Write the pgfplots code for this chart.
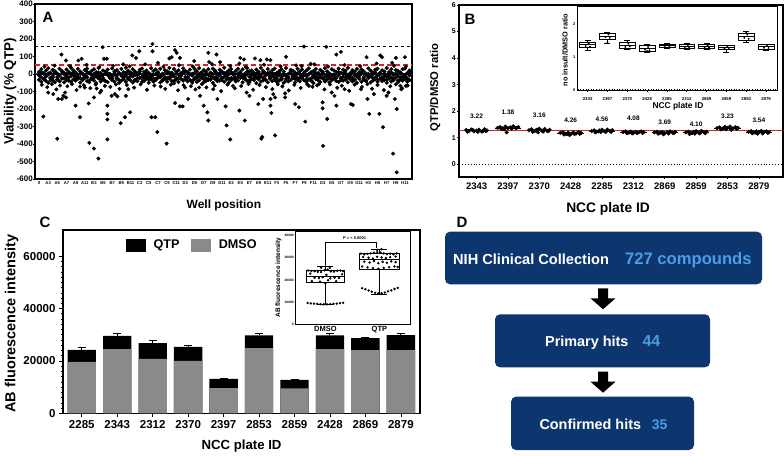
\documentclass[border=0pt]{standalone}
\usepackage{pgfplots}
\usepackage{pgfplotstable}
\pgfplotsset{compat=1.18}
\usepgfplotslibrary{statistics}
\usepackage{fontspec}
\setmainfont{Liberation Sans}
\definecolor{navybox}{RGB}{14,54,110}
\definecolor{lightblue}{RGB}{74,158,232}
\definecolor{dmsogray}{RGB}{138,138,138}
\definecolor{bluel}{RGB}{24,32,140}
\definecolor{redl}{RGB}{214,36,36}
\newcommand{\myfs}[1]{\fontsize{#1}{#1}\selectfont\bfseries}
\pgfplotsset{
  myaxis/.style={
    scale only axis, anchor=south west,
    axis line style={line width=1.1pt},
    every tick/.style={black, line width=0.6pt},
    tick align=outside,
    major tick length=2pt,
    minor tick length=1.2pt,
    xtick pos=bottom, ytick pos=left,
    /pgf/number format/assume math mode=true,
    /pgf/number format/1000 sep={},
    scaled ticks=false,
    clip=true,
  }
}
% Panel A: dense band of points around 0 (x = well index, columns a,b,c,d = points per well)
\pgfplotstableread{
x a b c d
0 12 -8 -33 -5
0.25 28 -19 -45 10
0.5 5 2 -28 -28
0.75 19 -14 -39 -15
1 33 -3 -50 3
1.25 8 -22 -24 -36
1.5 24 -11 -36 -20
1.75 15 4 -47 8
2 2 -17 -30 -31
2.25 30 -6 -42 -10
2.5 17 -25 -26 14
2.75 6 -1 -48 -25
3 26 -13 -35 -2
3.25 11 -20 -21 -38
3.5 35 3 -44 -12
3.75 21 -9 -31 6
4 9 -16 -38 -33
4.25 29 -4 -27 -18
4.5 14 -23 -49 1
4.75 3 0 -34 -27
5 23 -12 -23 -8
5.25 31 -18 -41 12
5.5 7 5 -46 -35
5.75 18 -7 -29 -22
6 27 -21 -37 -1
6.25 10 -2 -52 -14
6.5 34 -15 -25 9
6.75 4 -10 -43 -30
7 20 -24 -32 -6
7.25 13 1 -40 -39
7.5 25 -6 -47 4
7.75 1 -19 -22 -17
8 32 -13 -35 -26
8.25 16 -3 -44 11
8.5 22 -20 -28 -9
8.75 6 4 -51 -34
9 29 -11 -38 -3
9.25 11 -17 -30 -21
9.5 36 -8 -45 7
9.75 19 -22 -26 -29
10 8 -1 -36 -13
10.25 27 -14 -49 2
10.5 14 -5 -33 -37
10.75 3 -25 -41 -7
11 24 2 -24 13
11.25 31 -16 -46 -24
11.5 12 -9 -39 -16
11.75 20 -12 -27 5
12 5 -19 -50 -32
12.25 33 -4 -31 -11
12.5 17 -23 -43 -4
12.75 26 0 -35 -28
13 9 -10 -22 10
13.25 30 -15 -48 -19
13.5 2 -7 -37 -35
13.75 22 -21 -29 0
14 15 3 -44 -23
14.25 35 -18 -26 8
14.5 7 -2 -40 -14
14.75 28 -13 -53 -40
15 13 -24 -32 3
15.25 21 -6 -46 -26
15.5 4 -11 -28 -9
15.75 32 5 -38 12
16 18 -17 -25 -31
16.25 10 -20 -42 -18
16.5 25 -3 -34 -2
16.75 1 -8 -50 -37
17 29 -22 -30 6
17.25 16 -14 -45 -22
17.5 34 1 -36 -12
17.75 6 -16 -23 9
18 23 -9 -47 -29
18.25 12 -25 -40 -5
18.5 27 -5 -27 -34
18.75 8 -12 -33 1
19 31 -1 -51 -20
19.25 19 -19 -29 14
19.5 3 -7 -41 -25
19.75 24 4 -38 -8
20 14 -21 -24 -36
20.25 36 -15 -44 4
20.5 9 -10 -31 -15
20.75 21 -2 -49 -27
21 28 -23 -35 11
21.25 5 -6 -26 -3
21.5 17 -18 -42 -32
21.75 30 0 -37 -17
22 11 -13 -22 7
22.25 26 -11 -48 -21
22.5 2 -24 -30 -10
22.75 33 -4 -39 13
23 15 -17 -46 -38
23.25 20 2 -28 -6
23.5 7 -8 -34 -24
23.75 25 -20 -52 2
24 12 -14 -25 -30
24.25 35 -3 -43 -13
24.5 18 -22 -36 10
24.75 4 -9 -32 -33
25 29 5 -47 -1
25.25 10 -16 -27 -19
25.5 22 -12 -40 5
25.75 31 -1 -23 -35
26 6 -25 -45 -11
26.25 16 -7 -38 8
26.5 27 -19 -31 -26
26.75 13 -5 -50 -4
27 34 -11 -29 -39
27.25 1 -21 -42 -16
27.5 24 3 -35 12
27.75 19 -15 -24 -7
28 8 -10 -48 -28
28.25 30 -23 -33 3
28.5 14 -2 -41 -22
28.75 26 -18 -26 -14
29 3 -6 -37 9
29.25 21 -13 -44 -31
29.5 32 0 -30 -2
29.75 11 -24 -39 -37
30 17 -8 -52 -18
30.25 28 -17 -28 6
30.5 5 -4 -36 -25
30.75 23 -20 -46 -9
31 9 1 -25 14
31.25 33 -14 -43 -34
31.5 15 -9 -32 -12
31.75 2 -22 -49 1
32 27 -11 -34 -29
32.25 20 -3 -27 -5
32.5 12 -19 -40 -23
32.75 31 -6 -45 11
33 7 -25 -23 -36
33.25 25 4 -38 -15
33.5 18 -16 -31 4
33.75 35 -12 -47 -20
34 4 -1 -29 -8
34.25 22 -21 -42 13
34.5 13 -7 -35 -32
34.75 29 -15 -51 -3
35 10 -10 -26 -27
35.25 26 2 -44 7
35.5 16 -23 -33 -17
35.75 3 -5 -39 -40
36 32 -18 -24 0
36.25 19 -13 -48 -10
36.5 8 -2 -37 -24
36.75 24 -20 -30 10
37 30 -9 -45 -30
37.25 6 5 -28 -6
37.5 21 -24 -41 -21
37.75 14 -11 -34 2
38 34 -16 -50 -33
38.25 11 -4 -27 -13
38.5 27 -22 -43 9
38.75 1 -7 -36 -26
39 23 0 -22 -1
39.25 17 -14 -46 -38
39.5 9 -19 -32 5
39.75 28 -3 -38 -16
40 31 -12 -29 -11
40.25 5 -25 -44 -28
40.5 20 -8 -35 8
}\bandA
\begin{document}
\begin{tikzpicture}
\path[use as bounding box] (0pt,0pt) rectangle (784pt,455pt);

% ================= Panel A =================
\begin{axis}[myaxis, at={(35pt,276pt)}, width=377pt, height=175pt,
  xmin=-0.44, xmax=40.77, ymin=-600, ymax=400,
  ytick={-600,-500,-400,-300,-200,-100,0,100,200,300,400},
  xtick={0,1,...,40},
  xticklabels={0,A3,A5,A7,A9,A11,B3,B5,B7,B9,B11,C3,C5,C7,C9,C11,D3,D5,D7,D9,D11,E3,E5,E7,E9,E11,F3,F5,F7,F9,F11,G3,G5,G7,G9,G11,H3,H5,H7,H9,H11},
  major tick length=1.5pt,
  xticklabel style={font=\myfs{4.2}, inner sep=1pt},
  yticklabel style={font=\myfs{8}, inner sep=0.5pt},
  xlabel={Well position}, ylabel={Viability (\% QTP)},
  xlabel style={font=\myfs{12}, at={(axis description cs:0.501,-0.149)}, anchor=center},
  ylabel style={font=\myfs{13.4}, at={(axis description cs:-0.066,0.5)}, anchor=center},
]
\addplot[only marks, mark=*, mark size=1.85pt, black] table[x=x,y=a]{\bandA};
\addplot[only marks, mark=*, mark size=1.85pt, black] table[x=x,y=b]{\bandA};
\addplot[only marks, mark=*, mark size=1.85pt, black] table[x=x,y=c]{\bandA};
\addplot[only marks, mark=*, mark size=1.85pt, black] table[x=x,y=d]{\bandA};
% moderate points
\addplot[only marks, mark=*, mark size=1.8pt, black] coordinates {
(0.3,-62)(0.9,-75)(1.4,-58)(1.9,-88)(2.3,-66)(3.1,-70)(3.6,-57)(4.1,-92)(4.9,-64)(5.6,-81)
(6.2,-60)(6.8,-95)(7.2,-68)(7.8,-74)(8.4,-60)(8.8,-85)(9.6,-63)(10.4,-78)(11.1,-59)(11.8,-90)
(12.6,-66)(13.3,-72)(13.8,-85)(14.4,-61)(15.2,-93)(15.8,-64)(16.6,-70)(17.1,-88)(17.8,-58)(18.3,-77)
(19.2,-66)(19.9,-98)(20.6,-60)(21.4,-82)(22.1,-69)(22.9,-57)(23.4,-90)(24.1,-63)(24.8,-75)(25.5,-86)
(26.1,-59)(26.6,-71)(27.3,-94)(27.9,-62)(28.6,-80)(29.3,-58)(29.9,-73)(30.4,-65)(31.2,-88)(31.8,-60)
(32.6,-79)(33.1,-67)(33.9,-96)(34.5,-61)(35.3,-74)(35.9,-58)(36.4,-84)(37.0,-63)(37.7,-92)(38.4,-70)
(39.0,-59)(39.7,-82)(40.3,-66)
(0.6,42)(1.7,48)(3.4,45)(5.2,52)(6.6,40)(8.1,47)(9.9,44)(11.6,55)(13.6,41)(15.3,50)(16.8,43)(18.9,57)
(20.9,46)(22.6,40)(24.6,53)(26.4,44)(28.1,49)(29.7,58)(31.6,42)(33.4,51)(35.1,45)(36.9,60)(38.8,47)(40.1,43)};
% outliers
\addplot[only marks, mark=*, mark size=1.8pt, black] coordinates {
(2.45,111)(2.95,77)(4.3,77)(4.66,87)(6.96,153)(7.1,87)(7.4,87)(9.2,55)(10.2,106)(10.6,91)(10.96,130)
(12.4,172)(12.4,130)(13.0,64)(14.25,89)(14.5,96)(14.87,136)(15.05,121)(15.4,92)(16.96,74)(18.5,121)
(18.6,68)(19.4,111)(19.8,68)(21.9,60)(22.0,92)(22.4,83)(23.6,89)(24.2,79)(24.9,83)
(25.3,79)(27.0,98)(28.7,45)(30.1,55)(28.96,157)(31.4,155)(32.5,111)(33.0,126)(35.8,96)(37.3,106)
(37.5,96)(39.0,92)(40.0,96)(38.6,64)
(0.47,-243)(1.0,-106)(1.56,-115)(2.0,-370)(2.1,-143)(2.5,-143)(2.66,-125)(2.85,-106)(2.95,-134)
(4.0,-181)(4.48,-247)(4.48,-72)(5.0,-77)(5.5,-394)(5.43,-168)(6.0,-134)(6.0,-426)(6.3,-83)(6.49,-483)
(6.67,-106)(7.47,-181)(7.47,-228)(7.47,-260)(7.47,-374)(7.94,-125)(8.3,-115)(8.56,-128)(8.93,-281)
(9.4,-247)(9.5,-125)(9.95,-219)(9.76,-87)(12.3,-247)(12.7,-247)(12.93,-332)(13.95,-398)(14.87,-166)
(15.4,-185)(15.7,-185)(15.96,-77)(16.3,-143)(17.6,-125)(17.5,-77)(18.0,-181)(18.4,-219)(18.5,-266)
(19.05,-87)(19.5,-143)(20.4,-185)(20.5,-294)(20.9,-374)(21.2,-68)(21.9,-209)(22.5,-266)(22.7,-106)
(23.0,-125)(23.97,-172)(24.3,-370)(24.5,-143)
(24.4,-360)(25.3,-143)(25.3,-181)(25.4,-223)(25.6,-115)(25.8,-134)(25.8,-351)(26.9,-111)(26.9,-134)
(28.0,-172)(28.4,-190)(29.1,-272)(29.5,-68)(30.6,-58)(31.0,-162)(31.0,-196)(31.05,-411)(31.5,-257)
(32.0,-106)(32.3,-125)(32.5,-181)(33.4,-87)(34.1,-172)(34.3,-177)(35.2,-87)(35.9,-143)(36.1,-228)
(36.6,-115)(37.2,-228)(37.6,-304)(38.0,-125)(38.2,-106)(38.7,-455)(38.9,-143)(39.1,-200)(39.1,-562)
(39.5,-68)(39.6,-87)(40.1,-68)};
\addplot[black, dashed, line width=0.7pt] coordinates {(-0.44,160)(40.77,160)};
\addplot[redl, dash pattern=on 5pt off 3pt, line width=1.8pt] coordinates {(-0.44,50)(40.77,50)};
\addplot[bluel, line width=2.6pt] coordinates {(-0.44,0)(40.77,0)};
\end{axis}

% ================= Panel B =================
\begin{axis}[myaxis, at={(459pt,278pt)}, width=324pt, height=172pt,
  xmin=-0.56, xmax=9.77, ymin=-0.48, ymax=6,
  ytick={0,1,2,3,4,5,6}, xtick={0,1,...,9},
  xticklabels={2343,2397,2370,2428,2285,2312,2869,2859,2853,2879},
  xticklabel style={font=\myfs{9.5}},
  yticklabel style={font=\myfs{7}, inner sep=1pt},
  xlabel={NCC plate ID}, ylabel={QTP/DMSO ratio},
  xlabel style={font=\myfs{13.8}, at={(axis description cs:0.46,-0.186)}, anchor=center},
  ylabel style={font=\myfs{11.3}, at={(axis description cs:-0.074,0.52)}, anchor=center},
]
\addplot[black, dotted, line width=0.9pt] coordinates {(-0.56,0)(9.77,0)};
\addplot[only marks, mark=*, mark size=1.8pt, black] coordinates {
(-0.33,1.29)(-0.25,1.25)(-0.17,1.31)(-0.08,1.24)(0,1.27)(0.08,1.3)(0.17,1.23)(0.25,1.32)(0.33,1.28)(-0.29,1.22)(-0.12,1.29)(0.04,1.22)(0.21,1.26)(0.3,1.24)
(0.67,1.37)(0.75,1.4)(0.83,1.35)(0.92,1.42)(1,1.36)(1.08,1.39)(1.17,1.43)(1.25,1.36)(1.33,1.4)(0.79,1.33)(0.96,1.2)(1.12,1.34)(1.29,1.38)(0.88,1.31)
(1.67,1.28)(1.75,1.32)(1.83,1.25)(1.92,1.3)(2,1.34)(2.08,1.27)(2.17,1.33)(2.25,1.26)(2.33,1.3)(1.79,1.22)(1.96,1.2)(2.12,1.23)(2.29,1.25)(1.88,1.27)
(2.67,1.18)(2.75,1.21)(2.83,1.15)(2.92,1.19)(3,1.13)(3.08,1.2)(3.17,1.16)(3.25,1.22)(3.33,1.18)(2.79,1.12)(2.96,1.1)(3.12,1.14)(3.29,1.15)(2.88,1.13)
(3.67,1.25)(3.75,1.28)(3.83,1.23)(3.92,1.27)(4,1.3)(4.08,1.24)(4.17,1.31)(4.25,1.26)(4.33,1.29)(3.79,1.2)(3.96,1.21)(4.12,1.22)(4.29,1.22)(3.88,1.24)
(4.67,1.21)(4.75,1.24)(4.83,1.19)(4.92,1.23)(5,1.18)(5.08,1.22)(5.17,1.2)(5.25,1.24)(5.33,1.21)(4.79,1.17)(4.96,1.16)(5.12,1.17)(5.29,1.18)(4.88,1.2)
(5.67,1.2)(5.75,1.23)(5.83,1.18)(5.92,1.22)(6,1.17)(6.08,1.21)(6.17,1.24)(6.25,1.19)(6.33,1.22)(5.79,1.15)(5.96,1.13)(6.12,1.16)(6.29,1.17)(5.88,1.19)
(6.67,1.2)(6.75,1.23)(6.83,1.17)(6.92,1.22)(7,1.25)(7.08,1.19)(7.17,1.26)(7.25,1.21)(7.33,1.23)(6.79,1.14)(6.96,1.15)(7.12,1.16)(7.29,1.17)(6.88,1.18)
(7.67,1.36)(7.75,1.39)(7.83,1.34)(7.92,1.41)(8,1.37)(8.08,1.42)(8.17,1.35)(8.25,1.4)(8.33,1.37)(7.79,1.31)(7.96,1.32)(8.12,1.3)(8.29,1.33)(7.88,1.35)
(8.67,1.22)(8.75,1.25)(8.83,1.2)(8.92,1.24)(9,1.21)(9.08,1.26)(9.17,1.22)(9.25,1.24)(9.33,1.21)(8.79,1.17)(8.96,1.15)(9.12,1.16)(9.29,1.18)(8.88,1.19)};
\addplot[black, line width=0.5pt, unbounded coords=jump] coordinates {
(-0.42,1.27)(0.42,1.27)(0.5,nan)(0.58,1.37)(1.42,1.37)(1.5,nan)(1.58,1.28)(2.42,1.28)(2.5,nan)
(2.58,1.17)(3.42,1.17)(3.5,nan)(3.58,1.25)(4.42,1.25)(4.5,nan)(4.58,1.2)(5.42,1.2)(5.5,nan)
(5.58,1.19)(6.42,1.19)(6.5,nan)(6.58,1.2)(7.42,1.2)(7.5,nan)(7.58,1.36)(8.42,1.36)(8.5,nan)(8.58,1.21)(9.42,1.21)};
\addplot[redl, line width=1.1pt] coordinates {(-0.56,1.28)(9.77,1.28)};
\node[font=\myfs{6.5}] at (axis cs:0,1.81) {3.22};
\node[font=\myfs{6.5}] at (axis cs:1,1.94) {1.38};
\node[font=\myfs{6.5}] at (axis cs:2,1.84) {3.16};
\node[font=\myfs{6.5}] at (axis cs:3,1.66) {4.26};
\node[font=\myfs{6.5}] at (axis cs:4,1.71) {4.56};
\node[font=\myfs{6.5}] at (axis cs:5,1.72) {4.08};
\node[font=\myfs{6.5}] at (axis cs:6,1.60) {3.69};
\node[font=\myfs{6.5}] at (axis cs:7,1.52) {4.10};
\node[font=\myfs{6.5}] at (axis cs:8,1.81) {3.23};
\node[font=\myfs{6.5}] at (axis cs:9,1.66) {3.54};
\end{axis}

% ================= Panel B inset =================
\begin{axis}[myaxis, at={(577.7pt,364.3pt)}, width=199.3pt, height=84.7pt,
  axis background/.style={fill=white},
  axis line style={line width=0.7pt},
  boxplot/draw direction=y,
  xmin=-0.5, xmax=9.55, ymin=-0.03, ymax=2.55,
  ytick={0,1,2}, xtick={0,1,...,9},
  major tick length=1.2pt,
  xticklabels={2343,2397,2370,2428,2285,2312,2869,2859,2853,2879},
  xticklabel style={font=\myfs{4.3}, yshift=-2pt},
  yticklabel style={font=\myfs{4}, inner sep=1pt},
  xlabel={NCC plate ID}, ylabel={no insult/DMSO ratio},
  xlabel style={font=\myfs{8.4}, at={(axis description cs:0.503,-0.19)}, anchor=center},
  ylabel style={font=\myfs{7.3}, at={(axis description cs:-0.064,0.48)}, anchor=center},
]
\addplot[black, dotted, line width=0.6pt] coordinates {(-0.5,0)(9.55,0)};
\addplot[black, fill=white, line width=0.5pt, boxplot prepared={draw position=0, lower whisker=1.2, lower quartile=1.3, median=1.37, upper quartile=1.45, upper whisker=1.52, box extend=0.8, whisker extend=0.3}] coordinates {};
\addplot[black, fill=white, line width=0.5pt, boxplot prepared={draw position=1, lower whisker=1.4, lower quartile=1.54, median=1.62, upper quartile=1.72, upper whisker=1.75, box extend=0.8, whisker extend=0.3}] coordinates {};
\addplot[black, fill=white, line width=0.5pt, boxplot prepared={draw position=2, lower whisker=1.22, lower quartile=1.26, median=1.34, upper quartile=1.44, upper whisker=1.52, box extend=0.8, whisker extend=0.3}] coordinates {};
\addplot[black, fill=white, line width=0.5pt, boxplot prepared={draw position=3, lower whisker=1.15, lower quartile=1.17, median=1.25, upper quartile=1.34, upper whisker=1.39, box extend=0.8, whisker extend=0.3}] coordinates {};
\addplot[black, fill=white, line width=0.5pt, boxplot prepared={draw position=4, lower whisker=1.26, lower quartile=1.29, median=1.34, upper quartile=1.39, upper whisker=1.41, box extend=0.8, whisker extend=0.3}] coordinates {};
\addplot[black, fill=white, line width=0.5pt, boxplot prepared={draw position=5, lower whisker=1.24, lower quartile=1.26, median=1.32, upper quartile=1.39, upper whisker=1.42, box extend=0.8, whisker extend=0.3}] coordinates {};
\addplot[black, fill=white, line width=0.5pt, boxplot prepared={draw position=6, lower whisker=1.23, lower quartile=1.25, median=1.31, upper quartile=1.37, upper whisker=1.41, box extend=0.8, whisker extend=0.3}] coordinates {};
\addplot[black, fill=white, line width=0.5pt, boxplot prepared={draw position=7, lower whisker=1.14, lower quartile=1.22, median=1.28, upper quartile=1.34, upper whisker=1.36, box extend=0.8, whisker extend=0.3}] coordinates {};
\addplot[black, fill=white, line width=0.5pt, boxplot prepared={draw position=8, lower whisker=1.45, lower quartile=1.5, median=1.62, upper quartile=1.72, upper whisker=1.77, box extend=0.8, whisker extend=0.3}] coordinates {};
\addplot[black, fill=white, line width=0.5pt, boxplot prepared={draw position=9, lower whisker=1.2, lower quartile=1.24, median=1.31, upper quartile=1.37, upper whisker=1.39, box extend=0.8, whisker extend=0.3}] coordinates {};
\addplot[only marks, mark=*, mark size=0.7pt, black] coordinates {
(-0.1,1.33)(0.05,1.4)(0.12,1.31)(0,1.49)
(0.9,1.6)(1.05,1.68)(1.12,1.58)(1,1.45)
(1.9,1.3)(2.05,1.4)(2.12,1.32)(2,1.49)
(2.9,1.22)(3.05,1.3)(3.12,1.2)(3,1.18)
(3.9,1.33)(4.05,1.36)(4.12,1.31)
(4.9,1.3)(5.05,1.36)(5.12,1.29)
(5.9,1.29)(6.05,1.35)(6.12,1.28)
(6.9,1.26)(7.05,1.31)(7.12,1.24)
(7.9,1.58)(8.05,1.68)(8.12,1.55)(8,1.74)
(8.9,1.28)(9.05,1.34)(9.12,1.27)};
\end{axis}

% ================= Panel C =================
\begin{axis}[myaxis, at={(63pt,41.7pt)}, width=357pt, height=183.3pt,
  axis line style={line width=1.4pt},
  ybar, bar width=0.8,
  xmin=-0.53, xmax=9.54, ymin=0, ymax=70000,
  ytick={0,20000,40000,60000}, minor y tick num=9,
  major tick length=4pt, minor tick length=2.5pt,
  xtick={0,1,...,9},
  xticklabels={2285,2343,2312,2370,2397,2853,2859,2428,2869,2879},
  xticklabel style={font=\myfs{11.5}},
  yticklabel style={font=\myfs{11.5}},
  xlabel={NCC plate ID}, ylabel={AB fluorescence intensity},
  xlabel style={font=\myfs{13.2}, at={(axis description cs:0.5,-0.178)}, anchor=center},
  ylabel style={font=\myfs{14.5}, at={(axis description cs:-0.144,0.49)}, anchor=center},
  legend style={draw=none, fill=none, at={(rel axis cs:0.168,0.918)}, anchor=west, legend columns=2, font=\myfs{12.6}, /tikz/every even column/.append style={column sep=10pt}},
]
\addplot[fill=black, draw=none, bar shift=0pt, forget plot,
  error bars/.cd, y dir=plus, y explicit,
  error bar style={line width=1pt, black},
  error mark options={rotate=90, mark size=4pt, line width=1pt, black}]
 coordinates {(0,24200) +- (0,900) (1,29600) +- (0,700) (2,26800) +- (0,1100) (3,25400) +- (0,500) (4,13100) +- (0,300)
              (5,29800) +- (0,650) (6,12800) +- (0,150) (7,29800) +- (0,650) (8,28700) +- (0,200) (9,29900) +- (0,500)};
\addplot[fill=dmsogray, draw=none, bar shift=0pt, forget plot]
 coordinates {(0,19600) (1,24500) (2,20800) (3,20000) (4,9600) (5,24900) (6,9500) (7,24500) (8,24100) (9,24100)};
\addlegendimage{legend image code/.code={\fill[black] (0pt,-5.8pt) rectangle (19pt,5.8pt); \path (25pt,0pt);}}
\addlegendentry{QTP}
\addlegendimage{legend image code/.code={\fill[dmsogray] (0pt,-5.8pt) rectangle (19pt,5.8pt); \path (25pt,0pt);}}
\addlegendentry{DMSO}
\end{axis}

% ================= Panel C inset (y in thousands) =================
\begin{axis}[myaxis, at={(295.7pt,130.7pt)}, width=115pt, height=93.3pt,
  axis background/.style={fill=white},
  axis line style={line width=0.7pt},
  boxplot/draw direction=y,
  xmin=0.45, xmax=2.58, ymin=0, ymax=42,
  ytick={0,10,20,30,40}, yticklabels={0,10000,20000,30000,40000},
  xtick={1,2}, xticklabels={DMSO,QTP},
  major tick length=1.2pt, minor y tick num=4, minor tick length=0.8pt,
  xticklabel style={font=\myfs{7.5}, inner sep=1pt},
  yticklabel style={font=\myfs{3.3}, inner sep=0.5pt},
  ylabel={AB fluorescence intensity},
  ylabel style={font=\myfs{6.5}, at={(axis description cs:-0.15,0.5)}, anchor=center},
]
\addplot[black, fill=white, line width=0.5pt, boxplot prepared={draw position=1, lower whisker=9, lower quartile=18.8, median=21.5, upper quartile=24.5, upper whisker=26, box extend=0.7, whisker extend=0.3}] coordinates {};
\addplot[black, fill=white, line width=0.5pt, boxplot prepared={draw position=2, lower whisker=13.5, lower quartile=25, median=29.3, upper quartile=32, upper whisker=34, box extend=0.74, whisker extend=0.3}] coordinates {};
\addplot[only marks, mark=*, mark size=1pt, black] coordinates {
(0.67,9.6)(0.73,9.4)(0.79,9.3)(0.85,9.2)(0.91,9.1)(0.97,9.0)(1.03,9.0)(1.09,9.1)(1.15,9.2)(1.21,9.3)(1.27,9.5)(1.33,9.7)
(0.68,24.2)(0.74,24.0)(0.8,23.9)(0.86,23.6)(0.92,23.5)(0.98,24.3)(1.04,24.6)(1.1,23.8)(1.16,23.7)(1.22,24.1)(1.28,24.2)(1.33,23.9)
(0.72,22.8)(0.8,21.0)(0.88,20.8)(0.95,21.2)(1.02,22.3)(1.09,20.7)(1.17,21.0)(1.25,20.9)(1.31,22.5)
(0.75,19.5)(0.9,19.2)(1.05,19.8)(1.2,19.4)(1,18.5)
(0.92,25.5)(1.0,26.0)(1.08,25.4)
(1.66,31.8)(1.72,31.5)(1.78,31.7)(1.84,31.9)(1.9,32.2)(1.96,32.5)(2.02,32.3)(2.08,31.9)(2.14,31.6)(2.2,31.8)(2.26,31.5)(2.32,31.9)
(1.7,30.3)(1.8,30.0)(1.88,29.6)(1.96,30.4)(2.04,30.1)(2.12,29.8)(2.2,30.2)(2.3,30.5)
(1.72,28.2)(1.82,27.8)(1.9,28.5)(1.98,27.5)(2.06,28.1)(2.14,27.7)(2.22,28.3)(2.3,28.0)
(1.68,26.0)(1.78,25.6)(1.88,25.3)(1.98,25.0)(2.08,25.4)(2.18,25.7)(2.28,26.1)(2.34,25.8)
(1.68,16.2)(1.74,15.8)(1.8,15.2)(1.86,14.7)(1.92,14.2)(1.98,13.9)(2.04,14.0)(2.1,14.3)(2.16,14.8)(2.22,15.3)(2.28,15.9)(2.34,16.4)
(1.96,33.5)(2.04,33.8)};
\addplot[black, line width=0.4pt] coordinates {(1,26.6)(1,36.8)(1.95,36.8)(1.95,34.5)};
\node[font=\myfs{4}] at (axis cs:1.54,38.9) {P = < 0.0001};
\end{axis}

% ================= Panel D =================
\fill[navybox, rounded corners=5pt] (445pt,170.7pt) rectangle (762pt,223.3pt);
\node[anchor=base west, text=white, font=\myfs{14.6}, inner sep=0pt] at (453pt,190.5pt) {NIH Clinical Collection};
\node[anchor=base west, text=lightblue, font=\myfs{16.6}, inner sep=0pt] at (625pt,190.5pt) {727 compounds};
\fill[black] (598pt,166.7pt) -- (608pt,166.7pt) -- (608pt,156.7pt) -- (615.5pt,156.7pt) -- (603pt,145.7pt) -- (590.5pt,156.7pt) -- (598pt,156.7pt) -- cycle;
\fill[navybox, rounded corners=5pt] (495pt,87.7pt) rectangle (710pt,140.7pt);
\node[anchor=base west, text=white, font=\myfs{14.4}, inner sep=0pt] at (545pt,108.3pt) {Primary hits};
\node[anchor=base west, text=lightblue, font=\myfs{15.9}, inner sep=0pt] at (642.3pt,108.3pt) {44};
\fill[black] (598pt,83.3pt) -- (608pt,83.3pt) -- (608pt,73.3pt) -- (615.5pt,73.3pt) -- (603pt,62.3pt) -- (590.5pt,73.3pt) -- (598pt,73.3pt) -- cycle;
\fill[navybox, rounded corners=5pt] (511pt,5pt) rectangle (694pt,58.3pt);
\node[anchor=base west, text=white, font=\myfs{14.4}, inner sep=0pt] at (539.3pt,25.7pt) {Confirmed hits};
\node[anchor=base west, text=lightblue, font=\myfs{14}, inner sep=0pt] at (651.7pt,25.7pt) {35};

% panel letters
\node[font=\myfs{15}] at (48pt,438pt) {A};
\node[font=\myfs{15}] at (470pt,436pt) {B};
\node[font=\myfs{15}] at (45pt,233pt) {C};
\node[font=\myfs{15}] at (462pt,233pt) {D};
\end{tikzpicture}
\end{document}
